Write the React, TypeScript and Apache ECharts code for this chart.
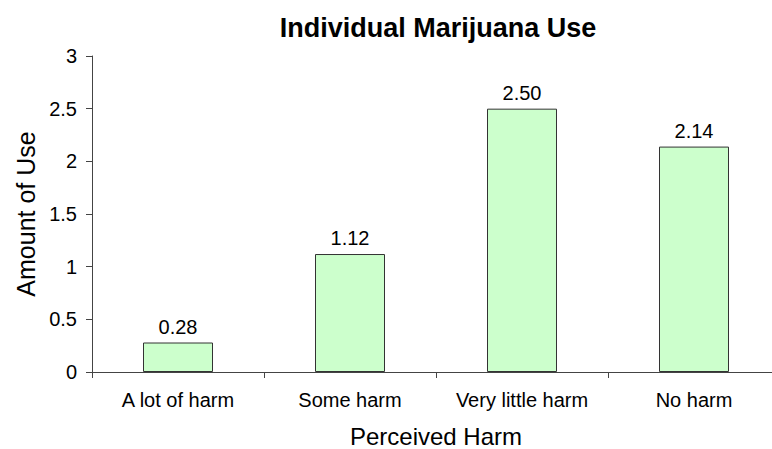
import React, { useEffect, useRef } from "react";
import * as echarts from "echarts";

const categories = ["A lot of harm", "Some harm", "Very little harm", "No harm"];
const values = [0.28, 1.12, 2.5, 2.14];
const yTicks = { min: 0, max: 3, interval: 0.5 };
const titleText = "Individual Marijuana Use";
const xName = "Perceived Harm";
const yName = "Amount of Use";

const FONT = "'Liberation Sans', Arial, sans-serif";

export default function App() {
  const ref = useRef<HTMLDivElement>(null);
  useEffect(() => {
    if (!ref.current) return;
    const chart = echarts.init(ref.current, undefined, { renderer: "svg" });
    chart.setOption({
      animation: false,
      backgroundColor: "#ffffff",
      title: {
        text: titleText,
        left: 433,
        top: 9,
        textAlign: "center",
        textStyle: { fontFamily: FONT, fontSize: 27, fontWeight: "bold", color: "#000" },
      },
      grid: { left: 92, top: 56, width: 688, height: 316, outerBoundsMode: "none", containLabel: false },
      xAxis: {
        type: "category",
        data: categories,
        name: xName,
        nameLocation: "middle",
        nameGap: 52,
        nameTextStyle: { fontFamily: FONT, fontSize: 24, color: "#000" },
        axisLine: { lineStyle: { color: "#444", width: 1 } },
        axisTick: { show: true, length: 6, lineStyle: { color: "#444" } },
        axisLabel: { fontFamily: FONT, fontSize: 20, color: "#000", margin: 18, interval: 0 },
      },
      yAxis: {
        type: "value",
        min: yTicks.min,
        max: yTicks.max,
        interval: yTicks.interval,
        name: yName,
        nameLocation: "middle",
        nameGap: 54,
        nameRotate: 90,
        nameTextStyle: { fontFamily: FONT, fontSize: 25, color: "#000" },
        splitLine: { show: false },
        axisLine: { show: true, lineStyle: { color: "#444", width: 1 } },
        axisTick: { show: true, length: 6, lineStyle: { color: "#444" } },
        axisLabel: { fontFamily: FONT, fontSize: 20, color: "#000", margin: 15 },
      },
      series: [
        {
          type: "bar",
          data: values,
          barWidth: 70,
          itemStyle: { color: "#ccffcc", borderColor: "#333", borderWidth: 1 },
          label: {
            show: true,
            position: "top",
            distance: 6,
            fontFamily: FONT,
            fontSize: 20,
            color: "#000",
            formatter: (p: any) => Number(p.value).toFixed(2),
          },
        },
      ],
    });
    return () => chart.dispose();
  }, []);
  return (
    <div
      ref={ref}
      style={{ position: "fixed", left: 0, top: 0, width: 772, height: 449 }}
    />
  );
}
